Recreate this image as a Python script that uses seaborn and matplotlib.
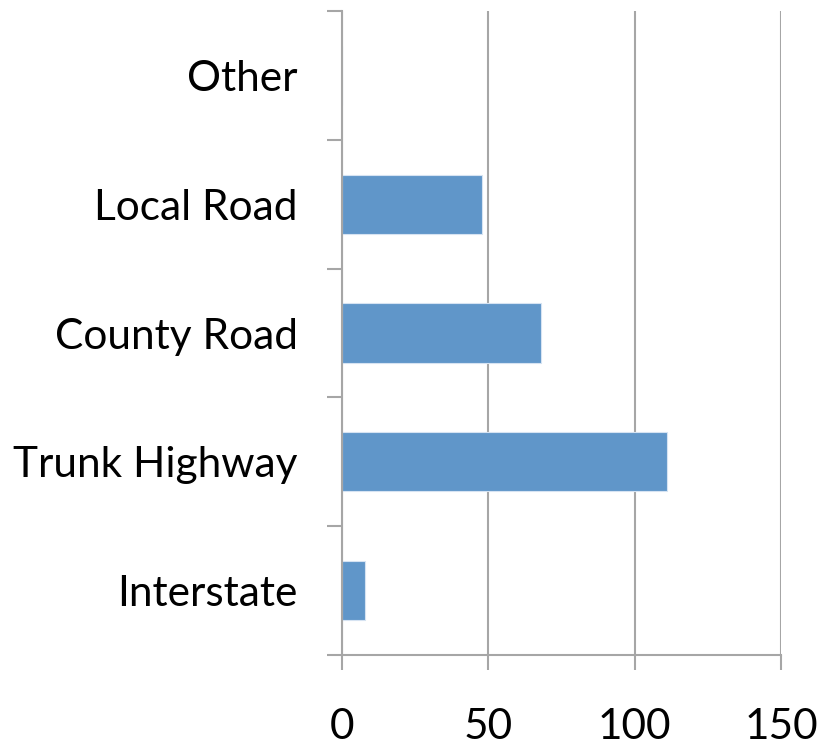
import matplotlib
matplotlib.use("Agg")
import matplotlib.pyplot as plt
import seaborn as sns
import pandas as pd
import numpy as np

# data, top to bottom as drawn
categories = ['Other', 'Local Road', 'County Road', 'Trunk Highway', 'Interstate']
values = [0, 48, 68, 111, 8]
x_ticks = [0, 50, 100, 150]

df = pd.DataFrame({'road': categories, 'count': values})

sns.set_style('white')
plt.rcParams['font.family'] = ['Lato', 'DejaVu Sans']

grid_col = '#A6A6A6'
bar_col = '#6096C9'

fig = plt.figure(figsize=(8.2, 7.51), dpi=100)
ax = fig.add_axes([342 / 820, 1 - 655 / 751, (781 - 342) / 820, (655 - 11) / 751])

sns.barplot(data=df, x='count', y='road', order=categories, orient='h',
            color=bar_col, width=0.46, edgecolor='#D6E3F2', linewidth=0.8,
            saturation=1, ax=ax)

ax.set_xlim(0, 150)
ax.set_ylim(len(categories) - 0.5, -0.5)
ax.set_xticks(x_ticks)
ax.set_xticklabels([str(t) for t in x_ticks])
ax.set_xlabel('')
ax.set_ylabel('')

# vertical grid behind bars
ax.set_axisbelow(True)
ax.xaxis.grid(True, color=grid_col, linewidth=1.5)
ax.yaxis.grid(False)

for s in ['top', 'right']:
    ax.spines[s].set_visible(False)
for s in ['left', 'bottom']:
    ax.spines[s].set_color(grid_col)
    ax.spines[s].set_linewidth(1.5)

# category ticks at boundaries between bars
ax.set_yticks(np.arange(-0.5, len(categories)), minor=True)
ax.tick_params(axis='y', which='both', left=True)
ax.tick_params(axis='x', which='both', bottom=True)
ax.tick_params(axis='y', which='major', length=0, pad=32, labelsize=30.5, labelcolor='black')
ax.tick_params(axis='y', which='minor', length=11, width=1.5, color=grid_col, direction='out')
ax.tick_params(axis='x', which='major', length=11, width=1.5, color=grid_col,
               direction='out', pad=27, labelsize=30.5, labelcolor='black')

fig.savefig('out.png', dpi=100)
